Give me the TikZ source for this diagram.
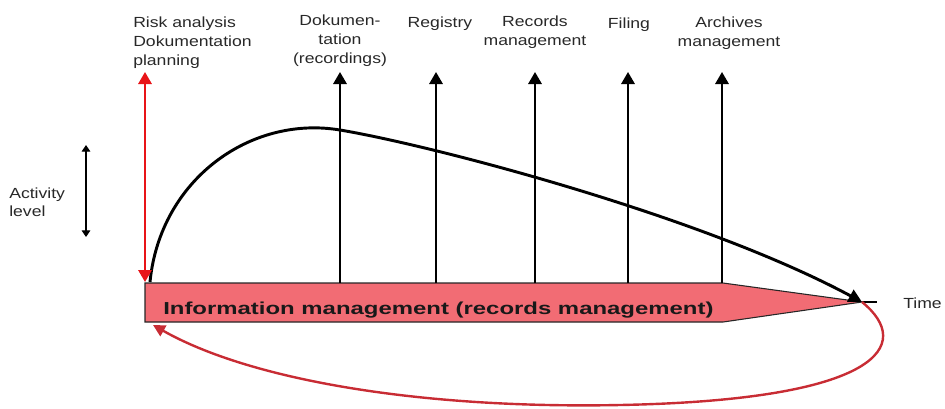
\documentclass[tikz,border=0pt]{standalone}
\usepackage{fontspec}
\setmainfont{Liberation Sans}
\newfontfamily\labelfont[FakeStretch=1.2]{Liberation Sans}
\newfontfamily\barfont[FakeStretch=1.38]{Liberation Sans}
\usetikzlibrary{arrows.meta}
\definecolor{barfill}{RGB}{242,108,116}
\definecolor{riskred}{RGB}{232,20,24}
\definecolor{loopred}{RGB}{200,44,52}
\definecolor{labelgray}{RGB}{40,40,40}

\begin{document}
\begin{tikzpicture}[x=0.75pt, y=-0.75pt,
    lbl/.style = {font=\labelfont\fontsize{11pt}{14.25pt}\selectfont, text=labelgray, inner sep=0pt, align=center, anchor=base},
    uparrow/.style = {line width=1.6pt, -{Triangle[width=10pt,length=9pt]}},
    riskarrow/.style = {riskred, line width=1.6pt, {Triangle[width=10pt,length=9pt]}-{Triangle[width=10pt,length=9pt]}},
    activity/.style = {line width=0.8pt, {Triangle[width=6.5pt,length=5pt]}-{Triangle[width=6.5pt,length=5pt]}},
    curve/.style = {line width=2.2pt, -{Triangle[width=10pt,length=10pt]}},
    loop/.style = {loopred, line width=1.8pt, -{Triangle[width=9pt,length=9pt]}},
    barshape/.style = {fill=barfill, draw=black!85, line width=0.8pt}]
  \useasboundingbox (0,0) rectangle (945,408);

  % the information management bar
  \coordinate (barNW) at (145,283);
  \coordinate (barNE) at (723,283);
  \coordinate (barSE) at (723,322);
  \coordinate (barSW) at (145,322);
  \coordinate (tip) at (862,302);
  \coordinate (timeend) at (877,302);
  \draw[barshape] (barNW) -- (barNE) -- (tip) -- (barSE) -- (barSW) -- cycle;
  \node[font=\barfont\fontsize{13pt}{15pt}\selectfont\bfseries, text=black!90, inner sep=0pt, anchor=base west] (info) at (163,314) {Information management (records management)};
  \draw[line width=0.8pt] (tip) -- (timeend);
  \node[lbl, anchor=base west] (time) at (903,308) {Time};

  % activity curve
  \coordinate (rise) at (150,282);
  \coordinate (crest) at (340,130);
  \draw[curve] (rise) .. controls (160,180) and (250,115) .. (crest) .. controls (430,145) and (700,215) .. (tip);

  % phases
  \coordinate (riskfoot) at (145,282);
  \coordinate (riskhead) at (145,72);
  \draw[riskarrow] (riskfoot) -- (riskhead);
  \foreach \x [count=\i] in {340,436,535,628,722} {
    \coordinate (foot\i) at (\x,283);
    \coordinate (head\i) at (\x,72);
    \draw[uparrow] (foot\i) -- (head\i);
  }
  % multi-line labels sit on their last baseline
  \node[lbl, align=left, anchor=base west] (risk) at (133,65) {Risk analysis\\Dokumentation\\planning};
  \node[lbl] (doku) at (340,63) {Dokumen-\\tation\\(recordings)};
  \node[lbl] (reg) at (440,27) {Registry};
  \node[lbl] (rec) at (535,45) {Records\\management};
  \node[lbl] (fil) at (629,28) {Filing};
  \node[lbl] (arc) at (729,46) {Archives\\management};

  % activity level
  \coordinate (acttop) at (86,145);
  \coordinate (actbot) at (86,237);
  \draw[activity] (acttop) -- (actbot);
  \node[lbl, align=left, anchor=base west, font=\labelfont\fontsize{11pt}{13.5pt}\selectfont] (act) at (9,216) {Activity\\level};

  % feedback loop
  \coordinate (back) at (153,325);
  \draw[loop] (tip) .. controls (915,345) and (880,400) .. (620,405) .. controls (420,409) and (250,380) .. (back);
\end{tikzpicture}
\end{document}
